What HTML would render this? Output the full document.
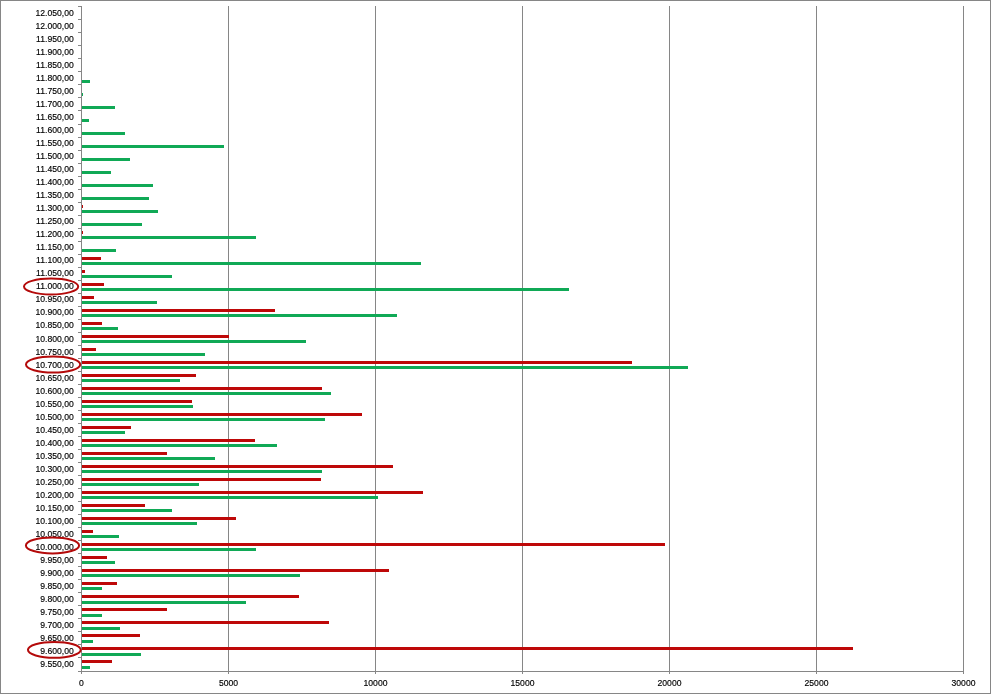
<!DOCTYPE html>
<html><head><meta charset="utf-8"><title>Chart</title>
<style>
html,body{margin:0;padding:0;background:#fff;}
body{width:991px;height:694px;overflow:hidden;position:relative;font-family:"Liberation Sans",sans-serif;}
#c{position:absolute;left:0;top:0;width:989px;height:692px;border:1px solid #868686;background:#fff;}
.l{position:absolute;background:#868686;}
.r{position:absolute;height:3px;left:82px;background:#BE0808;}
.g{position:absolute;height:3px;left:82px;background:#10A956;}
.y,.x{-webkit-text-stroke:0.15px #000;}
.y{position:absolute;left:0;width:73.7px;text-align:right;font-size:8.6px;line-height:10px;height:10px;color:#000;white-space:nowrap;}
.x{position:absolute;top:678px;width:60px;text-align:center;font-size:8.6px;line-height:10px;height:10px;color:#000;}
svg{position:absolute;left:0;top:0;}
</style></head><body>
<div id="c"></div>

<div class="l" style="left:81px;top:6px;width:1px;height:668px"></div>
<div class="l" style="left:228px;top:6px;width:1px;height:668px"></div>
<div class="l" style="left:375px;top:6px;width:1px;height:668px"></div>
<div class="l" style="left:522px;top:6px;width:1px;height:668px"></div>
<div class="l" style="left:669px;top:6px;width:1px;height:668px"></div>
<div class="l" style="left:816px;top:6px;width:1px;height:668px"></div>
<div class="l" style="left:963px;top:6px;width:1px;height:668px"></div>
<div class="l" style="left:78px;top:671px;width:886px;height:1px"></div>
<div class="l" style="left:78px;top:6px;width:3px;height:1px"></div>
<div class="l" style="left:78px;top:19px;width:3px;height:1px"></div>
<div class="l" style="left:78px;top:32px;width:3px;height:1px"></div>
<div class="l" style="left:78px;top:45px;width:3px;height:1px"></div>
<div class="l" style="left:78px;top:58px;width:3px;height:1px"></div>
<div class="l" style="left:78px;top:71px;width:3px;height:1px"></div>
<div class="l" style="left:78px;top:84px;width:3px;height:1px"></div>
<div class="l" style="left:78px;top:97px;width:3px;height:1px"></div>
<div class="l" style="left:78px;top:110px;width:3px;height:1px"></div>
<div class="l" style="left:78px;top:124px;width:3px;height:1px"></div>
<div class="l" style="left:78px;top:137px;width:3px;height:1px"></div>
<div class="l" style="left:78px;top:150px;width:3px;height:1px"></div>
<div class="l" style="left:78px;top:163px;width:3px;height:1px"></div>
<div class="l" style="left:78px;top:176px;width:3px;height:1px"></div>
<div class="l" style="left:78px;top:189px;width:3px;height:1px"></div>
<div class="l" style="left:78px;top:202px;width:3px;height:1px"></div>
<div class="l" style="left:78px;top:215px;width:3px;height:1px"></div>
<div class="l" style="left:78px;top:228px;width:3px;height:1px"></div>
<div class="l" style="left:78px;top:241px;width:3px;height:1px"></div>
<div class="l" style="left:78px;top:254px;width:3px;height:1px"></div>
<div class="l" style="left:78px;top:267px;width:3px;height:1px"></div>
<div class="l" style="left:78px;top:280px;width:3px;height:1px"></div>
<div class="l" style="left:78px;top:293px;width:3px;height:1px"></div>
<div class="l" style="left:78px;top:306px;width:3px;height:1px"></div>
<div class="l" style="left:78px;top:319px;width:3px;height:1px"></div>
<div class="l" style="left:78px;top:332px;width:3px;height:1px"></div>
<div class="l" style="left:78px;top:345px;width:3px;height:1px"></div>
<div class="l" style="left:78px;top:358px;width:3px;height:1px"></div>
<div class="l" style="left:78px;top:371px;width:3px;height:1px"></div>
<div class="l" style="left:78px;top:384px;width:3px;height:1px"></div>
<div class="l" style="left:78px;top:397px;width:3px;height:1px"></div>
<div class="l" style="left:78px;top:410px;width:3px;height:1px"></div>
<div class="l" style="left:78px;top:423px;width:3px;height:1px"></div>
<div class="l" style="left:78px;top:436px;width:3px;height:1px"></div>
<div class="l" style="left:78px;top:449px;width:3px;height:1px"></div>
<div class="l" style="left:78px;top:462px;width:3px;height:1px"></div>
<div class="l" style="left:78px;top:475px;width:3px;height:1px"></div>
<div class="l" style="left:78px;top:488px;width:3px;height:1px"></div>
<div class="l" style="left:78px;top:501px;width:3px;height:1px"></div>
<div class="l" style="left:78px;top:514px;width:3px;height:1px"></div>
<div class="l" style="left:78px;top:527px;width:3px;height:1px"></div>
<div class="l" style="left:78px;top:540px;width:3px;height:1px"></div>
<div class="l" style="left:78px;top:553px;width:3px;height:1px"></div>
<div class="l" style="left:78px;top:566px;width:3px;height:1px"></div>
<div class="l" style="left:78px;top:579px;width:3px;height:1px"></div>
<div class="l" style="left:78px;top:592px;width:3px;height:1px"></div>
<div class="l" style="left:78px;top:605px;width:3px;height:1px"></div>
<div class="l" style="left:78px;top:618px;width:3px;height:1px"></div>
<div class="l" style="left:78px;top:631px;width:3px;height:1px"></div>
<div class="l" style="left:78px;top:644px;width:3px;height:1px"></div>
<div class="l" style="left:78px;top:657px;width:3px;height:1px"></div>
<div class="g" style="top:80px;width:8px"></div>
<div class="g" style="top:93px;width:1px"></div>
<div class="g" style="top:106px;width:33px"></div>
<div class="g" style="top:119px;width:7px"></div>
<div class="g" style="top:132px;width:43px"></div>
<div class="g" style="top:145px;width:142px"></div>
<div class="g" style="top:158px;width:48px"></div>
<div class="g" style="top:171px;width:29px"></div>
<div class="g" style="top:184px;width:71px"></div>
<div class="g" style="top:197px;width:67px"></div>
<div class="r" style="top:205px;width:1px"></div>
<div class="g" style="top:210px;width:76px"></div>
<div class="g" style="top:223px;width:60px"></div>
<div class="r" style="top:231px;width:1px"></div>
<div class="g" style="top:236px;width:174px"></div>
<div class="g" style="top:249px;width:34px"></div>
<div class="r" style="top:257px;width:19px"></div>
<div class="g" style="top:262px;width:339px"></div>
<div class="r" style="top:270px;width:3px"></div>
<div class="g" style="top:275px;width:90px"></div>
<div class="r" style="top:283px;width:22px"></div>
<div class="g" style="top:288px;width:487px"></div>
<div class="r" style="top:296px;width:12px"></div>
<div class="g" style="top:301px;width:75px"></div>
<div class="r" style="top:309px;width:193px"></div>
<div class="g" style="top:314px;width:315px"></div>
<div class="r" style="top:322px;width:20px"></div>
<div class="g" style="top:327px;width:36px"></div>
<div class="r" style="top:335px;width:147px"></div>
<div class="g" style="top:340px;width:224px"></div>
<div class="r" style="top:348px;width:14px"></div>
<div class="g" style="top:353px;width:123px"></div>
<div class="r" style="top:361px;width:550px"></div>
<div class="g" style="top:366px;width:606px"></div>
<div class="r" style="top:374px;width:114px"></div>
<div class="g" style="top:379px;width:98px"></div>
<div class="r" style="top:387px;width:240px"></div>
<div class="g" style="top:392px;width:249px"></div>
<div class="r" style="top:400px;width:110px"></div>
<div class="g" style="top:405px;width:111px"></div>
<div class="r" style="top:413px;width:280px"></div>
<div class="g" style="top:418px;width:243px"></div>
<div class="r" style="top:426px;width:49px"></div>
<div class="g" style="top:431px;width:43px"></div>
<div class="r" style="top:439px;width:173px"></div>
<div class="g" style="top:444px;width:195px"></div>
<div class="r" style="top:452px;width:85px"></div>
<div class="g" style="top:457px;width:133px"></div>
<div class="r" style="top:465px;width:311px"></div>
<div class="g" style="top:470px;width:240px"></div>
<div class="r" style="top:478px;width:239px"></div>
<div class="g" style="top:483px;width:117px"></div>
<div class="r" style="top:491px;width:341px"></div>
<div class="g" style="top:496px;width:296px"></div>
<div class="r" style="top:504px;width:63px"></div>
<div class="g" style="top:509px;width:90px"></div>
<div class="r" style="top:517px;width:154px"></div>
<div class="g" style="top:522px;width:115px"></div>
<div class="r" style="top:530px;width:11px"></div>
<div class="g" style="top:535px;width:37px"></div>
<div class="r" style="top:543px;width:583px"></div>
<div class="g" style="top:548px;width:174px"></div>
<div class="r" style="top:556px;width:25px"></div>
<div class="g" style="top:561px;width:33px"></div>
<div class="r" style="top:569px;width:307px"></div>
<div class="g" style="top:574px;width:218px"></div>
<div class="r" style="top:582px;width:35px"></div>
<div class="g" style="top:587px;width:20px"></div>
<div class="r" style="top:595px;width:217px"></div>
<div class="g" style="top:601px;width:164px"></div>
<div class="r" style="top:608px;width:85px"></div>
<div class="g" style="top:614px;width:20px"></div>
<div class="r" style="top:621px;width:247px"></div>
<div class="g" style="top:627px;width:38px"></div>
<div class="r" style="top:634px;width:58px"></div>
<div class="g" style="top:640px;width:11px"></div>
<div class="r" style="top:647px;width:771px"></div>
<div class="g" style="top:653px;width:59px"></div>
<div class="r" style="top:660px;width:30px"></div>
<div class="g" style="top:666px;width:8px"></div>
<div class="y" style="top:8.00px">12.050,00</div>
<div class="y" style="top:21.02px">12.000,00</div>
<div class="y" style="top:34.04px">11.950,00</div>
<div class="y" style="top:47.06px">11.900,00</div>
<div class="y" style="top:60.08px">11.850,00</div>
<div class="y" style="top:73.10px">11.800,00</div>
<div class="y" style="top:86.12px">11.750,00</div>
<div class="y" style="top:99.14px">11.700,00</div>
<div class="y" style="top:112.16px">11.650,00</div>
<div class="y" style="top:125.18px">11.600,00</div>
<div class="y" style="top:138.20px">11.550,00</div>
<div class="y" style="top:151.22px">11.500,00</div>
<div class="y" style="top:164.24px">11.450,00</div>
<div class="y" style="top:177.26px">11.400,00</div>
<div class="y" style="top:190.28px">11.350,00</div>
<div class="y" style="top:203.30px">11.300,00</div>
<div class="y" style="top:216.32px">11.250,00</div>
<div class="y" style="top:229.34px">11.200,00</div>
<div class="y" style="top:242.36px">11.150,00</div>
<div class="y" style="top:255.38px">11.100,00</div>
<div class="y" style="top:268.40px">11.050,00</div>
<div class="y" style="top:281.42px">11.000,00</div>
<div class="y" style="top:294.44px">10.950,00</div>
<div class="y" style="top:307.46px">10.900,00</div>
<div class="y" style="top:320.48px">10.850,00</div>
<div class="y" style="top:333.50px">10.800,00</div>
<div class="y" style="top:346.52px">10.750,00</div>
<div class="y" style="top:359.54px">10.700,00</div>
<div class="y" style="top:372.56px">10.650,00</div>
<div class="y" style="top:385.58px">10.600,00</div>
<div class="y" style="top:398.60px">10.550,00</div>
<div class="y" style="top:411.62px">10.500,00</div>
<div class="y" style="top:424.64px">10.450,00</div>
<div class="y" style="top:437.66px">10.400,00</div>
<div class="y" style="top:450.68px">10.350,00</div>
<div class="y" style="top:463.70px">10.300,00</div>
<div class="y" style="top:476.72px">10.250,00</div>
<div class="y" style="top:489.74px">10.200,00</div>
<div class="y" style="top:502.76px">10.150,00</div>
<div class="y" style="top:515.78px">10.100,00</div>
<div class="y" style="top:528.80px">10.050,00</div>
<div class="y" style="top:541.82px">10.000,00</div>
<div class="y" style="top:554.84px">9.950,00</div>
<div class="y" style="top:567.86px">9.900,00</div>
<div class="y" style="top:580.88px">9.850,00</div>
<div class="y" style="top:593.90px">9.800,00</div>
<div class="y" style="top:606.92px">9.750,00</div>
<div class="y" style="top:619.94px">9.700,00</div>
<div class="y" style="top:632.96px">9.650,00</div>
<div class="y" style="top:645.98px">9.600,00</div>
<div class="y" style="top:659.00px">9.550,00</div>
<div class="x" style="left:51.5px">0</div>
<div class="x" style="left:198.5px">5000</div>
<div class="x" style="left:345.5px">10000</div>
<div class="x" style="left:492.5px">15000</div>
<div class="x" style="left:639.5px">20000</div>
<div class="x" style="left:786.5px">25000</div>
<div class="x" style="left:933.5px">30000</div>
<svg width="991" height="694" viewBox="0 0 991 694">
<ellipse cx="51.10" cy="286.50" rx="27.10" ry="8.00" fill="none" stroke="#B40A0A" stroke-width="2"/>
<ellipse cx="53.10" cy="364.50" rx="27.10" ry="8.10" fill="none" stroke="#B40A0A" stroke-width="2"/>
<ellipse cx="52.50" cy="545.40" rx="26.60" ry="8.00" fill="none" stroke="#B40A0A" stroke-width="2"/>
<ellipse cx="54.35" cy="649.85" rx="26.40" ry="7.90" fill="none" stroke="#B40A0A" stroke-width="2"/>
</svg>
</body></html>
